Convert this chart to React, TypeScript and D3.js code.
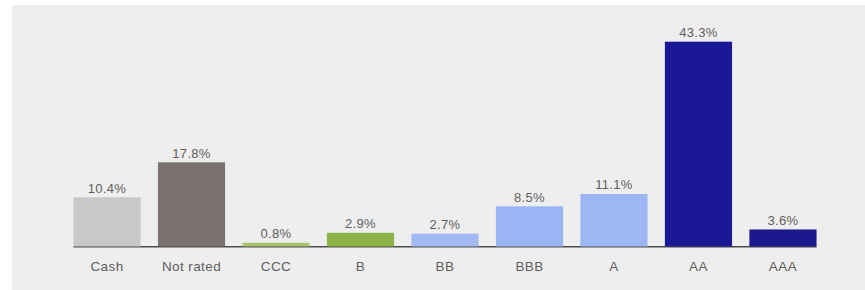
import React from 'react'
import { scaleBand, scaleLinear } from 'd3'

// credit rating breakdown, % of portfolio
const ratings = ['Cash', 'Not rated', 'CCC', 'B', 'BB', 'BBB', 'A', 'AA', 'AAA']
const shares = [10.4, 17.8, 0.8, 2.9, 2.7, 8.5, 11.1, 43.3, 3.6]
const labels = ['10.4%', '17.8%', '0.8%', '2.9%', '2.7%', '8.5%', '11.1%', '43.3%', '3.6%']
const colours = ['#c9c7c8', '#7b7270', '#a9c36e', '#8cb446', '#a3b9f4', '#9ab4f4', '#9db7f5', '#1b1896', '#1b1a8c']

const W = 865
const H = 290

function App() {
  const x = scaleBand().domain(ratings).range([65, 825]).paddingInner(0.205).paddingOuter(0.1)
  const y = scaleLinear().domain([0, 43.3]).range([246.5, 41.7])
  const font = '"Liberation Sans", Arial, sans-serif'

  return (
    <svg width={W} height={H} style={{ position: 'absolute', left: 0, top: 0 }}>
      <rect x={0} y={0} width={W} height={H} fill="#ffffff" />
      <rect x={12} y={5} width={W - 12} height={H - 5} fill="#eeeeee" />
      <line x1={x('Cash')} x2={(x('AAA') as number) + x.bandwidth()} y1={246.8} y2={246.8} stroke="#4a4a4a" strokeWidth={1.4} />
      <g className="bars">
        {ratings.map((r, i) => (
          <rect key={r} x={x(r)} y={y(shares[i])} width={x.bandwidth()} height={y(0) - y(shares[i])} fill={colours[i]} />
        ))}
      </g>
      <g className="values" fontFamily={font} fontSize={13} letterSpacing={0.3} fill="#5e5e5e" textAnchor="middle">
        {ratings.map((r, i) => (
          <text key={r} x={(x(r) as number) + x.bandwidth() / 2} y={y(shares[i]) - 4.5}>{labels[i]}</text>
        ))}
      </g>
      <g className="cats" fontFamily={font} fontSize={13.5} letterSpacing={0.4} fill="#5e5e5e" textAnchor="middle">
        {ratings.map((r) => (
          <text key={r} x={(x(r) as number) + x.bandwidth() / 2} y={271}>{r}</text>
        ))}
      </g>
    </svg>
  )
}

export default App
